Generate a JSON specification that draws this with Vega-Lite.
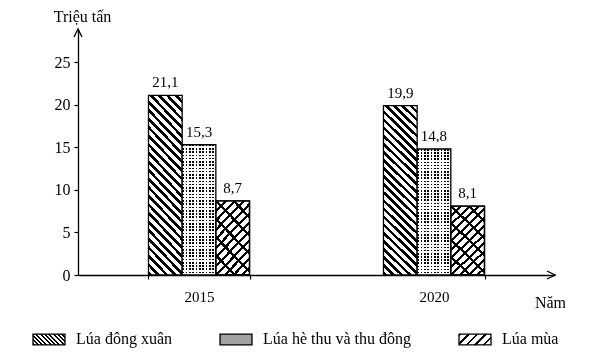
{
  "$schema": "https://vega.github.io/schema/vega-lite/v6.json",
  "width": 477,
  "height": 246,
  "autosize": {"type": "none"},
  "padding": {"left": 78, "top": 29, "right": 56, "bottom": 83},
  "background": "#ffffff",
  "params": [
    {"name": "g1", "value": {"gradient": "linear", "x1": 0, "y1": 1, "x2": 0.2229, "y2": -0.15, "stops": [
      {"offset":0,"color":"#000"},{"offset":0.018,"color":"#000"},{"offset":0.018,"color":"#fff"},{"offset":0.04,"color":"#fff"},
      {"offset":0.04,"color":"#000"},{"offset":0.058,"color":"#000"},{"offset":0.058,"color":"#fff"},{"offset":0.08,"color":"#fff"},
      {"offset":0.08,"color":"#000"},{"offset":0.098,"color":"#000"},{"offset":0.098,"color":"#fff"},{"offset":0.12,"color":"#fff"},
      {"offset":0.12,"color":"#000"},{"offset":0.138,"color":"#000"},{"offset":0.138,"color":"#fff"},{"offset":0.16,"color":"#fff"},
      {"offset":0.16,"color":"#000"},{"offset":0.178,"color":"#000"},{"offset":0.178,"color":"#fff"},{"offset":0.2,"color":"#fff"},
      {"offset":0.2,"color":"#000"},{"offset":0.218,"color":"#000"},{"offset":0.218,"color":"#fff"},{"offset":0.24,"color":"#fff"},
      {"offset":0.24,"color":"#000"},{"offset":0.258,"color":"#000"},{"offset":0.258,"color":"#fff"},{"offset":0.28,"color":"#fff"},
      {"offset":0.28,"color":"#000"},{"offset":0.298,"color":"#000"},{"offset":0.298,"color":"#fff"},{"offset":0.32,"color":"#fff"},
      {"offset":0.32,"color":"#000"},{"offset":0.338,"color":"#000"},{"offset":0.338,"color":"#fff"},{"offset":0.36,"color":"#fff"},
      {"offset":0.36,"color":"#000"},{"offset":0.378,"color":"#000"},{"offset":0.378,"color":"#fff"},{"offset":0.4,"color":"#fff"},
      {"offset":0.4,"color":"#000"},{"offset":0.418,"color":"#000"},{"offset":0.418,"color":"#fff"},{"offset":0.44,"color":"#fff"},
      {"offset":0.44,"color":"#000"},{"offset":0.458,"color":"#000"},{"offset":0.458,"color":"#fff"},{"offset":0.48,"color":"#fff"},
      {"offset":0.48,"color":"#000"},{"offset":0.498,"color":"#000"},{"offset":0.498,"color":"#fff"},{"offset":0.52,"color":"#fff"},
      {"offset":0.52,"color":"#000"},{"offset":0.538,"color":"#000"},{"offset":0.538,"color":"#fff"},{"offset":0.56,"color":"#fff"},
      {"offset":0.56,"color":"#000"},{"offset":0.578,"color":"#000"},{"offset":0.578,"color":"#fff"},{"offset":0.6,"color":"#fff"},
      {"offset":0.6,"color":"#000"},{"offset":0.618,"color":"#000"},{"offset":0.618,"color":"#fff"},{"offset":0.64,"color":"#fff"},
      {"offset":0.64,"color":"#000"},{"offset":0.658,"color":"#000"},{"offset":0.658,"color":"#fff"},{"offset":0.68,"color":"#fff"},
      {"offset":0.68,"color":"#000"},{"offset":0.698,"color":"#000"},{"offset":0.698,"color":"#fff"},{"offset":0.72,"color":"#fff"},
      {"offset":0.72,"color":"#000"},{"offset":0.738,"color":"#000"},{"offset":0.738,"color":"#fff"},{"offset":0.76,"color":"#fff"},
      {"offset":0.76,"color":"#000"},{"offset":0.778,"color":"#000"},{"offset":0.778,"color":"#fff"},{"offset":0.8,"color":"#fff"},
      {"offset":0.8,"color":"#000"},{"offset":0.818,"color":"#000"},{"offset":0.818,"color":"#fff"},{"offset":0.84,"color":"#fff"},
      {"offset":0.84,"color":"#000"},{"offset":0.858,"color":"#000"},{"offset":0.858,"color":"#fff"},{"offset":0.88,"color":"#fff"},
      {"offset":0.88,"color":"#000"},{"offset":0.898,"color":"#000"},{"offset":0.898,"color":"#fff"},{"offset":0.92,"color":"#fff"},
      {"offset":0.92,"color":"#000"},{"offset":0.938,"color":"#000"},{"offset":0.938,"color":"#fff"},{"offset":0.96,"color":"#fff"},
      {"offset":0.96,"color":"#000"},{"offset":0.978,"color":"#000"},{"offset":0.978,"color":"#fff"},{"offset":1,"color":"#fff"}]}},
    {"name": "g2", "value": {"gradient": "linear", "x1": 0, "y1": 0, "x2": 0, "y2": 1, "stops": [
      {"offset":0,"color":"#000"},{"offset":0.0125,"color":"#000"},{"offset":0.0125,"color":"#fff"},{"offset":0.025,"color":"#fff"},
      {"offset":0.025,"color":"#000"},{"offset":0.0375,"color":"#000"},{"offset":0.0375,"color":"#fff"},{"offset":0.05,"color":"#fff"},
      {"offset":0.05,"color":"#000"},{"offset":0.0625,"color":"#000"},{"offset":0.0625,"color":"#fff"},{"offset":0.075,"color":"#fff"},
      {"offset":0.075,"color":"#000"},{"offset":0.0875,"color":"#000"},{"offset":0.0875,"color":"#fff"},{"offset":0.1,"color":"#fff"},
      {"offset":0.1,"color":"#000"},{"offset":0.1125,"color":"#000"},{"offset":0.1125,"color":"#fff"},{"offset":0.125,"color":"#fff"},
      {"offset":0.125,"color":"#000"},{"offset":0.1375,"color":"#000"},{"offset":0.1375,"color":"#fff"},{"offset":0.15,"color":"#fff"},
      {"offset":0.15,"color":"#000"},{"offset":0.1625,"color":"#000"},{"offset":0.1625,"color":"#fff"},{"offset":0.175,"color":"#fff"},
      {"offset":0.175,"color":"#000"},{"offset":0.1875,"color":"#000"},{"offset":0.1875,"color":"#fff"},{"offset":0.2,"color":"#fff"},
      {"offset":0.2,"color":"#000"},{"offset":0.2125,"color":"#000"},{"offset":0.2125,"color":"#fff"},{"offset":0.225,"color":"#fff"},
      {"offset":0.225,"color":"#000"},{"offset":0.2375,"color":"#000"},{"offset":0.2375,"color":"#fff"},{"offset":0.25,"color":"#fff"},
      {"offset":0.25,"color":"#000"},{"offset":0.2625,"color":"#000"},{"offset":0.2625,"color":"#fff"},{"offset":0.275,"color":"#fff"},
      {"offset":0.275,"color":"#000"},{"offset":0.2875,"color":"#000"},{"offset":0.2875,"color":"#fff"},{"offset":0.3,"color":"#fff"},
      {"offset":0.3,"color":"#000"},{"offset":0.3125,"color":"#000"},{"offset":0.3125,"color":"#fff"},{"offset":0.325,"color":"#fff"},
      {"offset":0.325,"color":"#000"},{"offset":0.3375,"color":"#000"},{"offset":0.3375,"color":"#fff"},{"offset":0.35,"color":"#fff"},
      {"offset":0.35,"color":"#000"},{"offset":0.3625,"color":"#000"},{"offset":0.3625,"color":"#fff"},{"offset":0.375,"color":"#fff"},
      {"offset":0.375,"color":"#000"},{"offset":0.3875,"color":"#000"},{"offset":0.3875,"color":"#fff"},{"offset":0.4,"color":"#fff"},
      {"offset":0.4,"color":"#000"},{"offset":0.4125,"color":"#000"},{"offset":0.4125,"color":"#fff"},{"offset":0.425,"color":"#fff"},
      {"offset":0.425,"color":"#000"},{"offset":0.4375,"color":"#000"},{"offset":0.4375,"color":"#fff"},{"offset":0.45,"color":"#fff"},
      {"offset":0.45,"color":"#000"},{"offset":0.4625,"color":"#000"},{"offset":0.4625,"color":"#fff"},{"offset":0.475,"color":"#fff"},
      {"offset":0.475,"color":"#000"},{"offset":0.4875,"color":"#000"},{"offset":0.4875,"color":"#fff"},{"offset":0.5,"color":"#fff"},
      {"offset":0.5,"color":"#000"},{"offset":0.5125,"color":"#000"},{"offset":0.5125,"color":"#fff"},{"offset":0.525,"color":"#fff"},
      {"offset":0.525,"color":"#000"},{"offset":0.5375,"color":"#000"},{"offset":0.5375,"color":"#fff"},{"offset":0.55,"color":"#fff"},
      {"offset":0.55,"color":"#000"},{"offset":0.5625,"color":"#000"},{"offset":0.5625,"color":"#fff"},{"offset":0.575,"color":"#fff"},
      {"offset":0.575,"color":"#000"},{"offset":0.5875,"color":"#000"},{"offset":0.5875,"color":"#fff"},{"offset":0.6,"color":"#fff"},
      {"offset":0.6,"color":"#000"},{"offset":0.6125,"color":"#000"},{"offset":0.6125,"color":"#fff"},{"offset":0.625,"color":"#fff"},
      {"offset":0.625,"color":"#000"},{"offset":0.6375,"color":"#000"},{"offset":0.6375,"color":"#fff"},{"offset":0.65,"color":"#fff"},
      {"offset":0.65,"color":"#000"},{"offset":0.6625,"color":"#000"},{"offset":0.6625,"color":"#fff"},{"offset":0.675,"color":"#fff"},
      {"offset":0.675,"color":"#000"},{"offset":0.6875,"color":"#000"},{"offset":0.6875,"color":"#fff"},{"offset":0.7,"color":"#fff"},
      {"offset":0.7,"color":"#000"},{"offset":0.7125,"color":"#000"},{"offset":0.7125,"color":"#fff"},{"offset":0.725,"color":"#fff"},
      {"offset":0.725,"color":"#000"},{"offset":0.7375,"color":"#000"},{"offset":0.7375,"color":"#fff"},{"offset":0.75,"color":"#fff"},
      {"offset":0.75,"color":"#000"},{"offset":0.7625,"color":"#000"},{"offset":0.7625,"color":"#fff"},{"offset":0.775,"color":"#fff"},
      {"offset":0.775,"color":"#000"},{"offset":0.7875,"color":"#000"},{"offset":0.7875,"color":"#fff"},{"offset":0.8,"color":"#fff"},
      {"offset":0.8,"color":"#000"},{"offset":0.8125,"color":"#000"},{"offset":0.8125,"color":"#fff"},{"offset":0.825,"color":"#fff"},
      {"offset":0.825,"color":"#000"},{"offset":0.8375,"color":"#000"},{"offset":0.8375,"color":"#fff"},{"offset":0.85,"color":"#fff"},
      {"offset":0.85,"color":"#000"},{"offset":0.8625,"color":"#000"},{"offset":0.8625,"color":"#fff"},{"offset":0.875,"color":"#fff"},
      {"offset":0.875,"color":"#000"},{"offset":0.8875,"color":"#000"},{"offset":0.8875,"color":"#fff"},{"offset":0.9,"color":"#fff"},
      {"offset":0.9,"color":"#000"},{"offset":0.9125,"color":"#000"},{"offset":0.9125,"color":"#fff"},{"offset":0.925,"color":"#fff"},
      {"offset":0.925,"color":"#000"},{"offset":0.9375,"color":"#000"},{"offset":0.9375,"color":"#fff"},{"offset":0.95,"color":"#fff"},
      {"offset":0.95,"color":"#000"},{"offset":0.9625,"color":"#000"},{"offset":0.9625,"color":"#fff"},{"offset":0.975,"color":"#fff"},
      {"offset":0.975,"color":"#000"},{"offset":0.9875,"color":"#000"},{"offset":0.9875,"color":"#fff"},{"offset":1,"color":"#fff"}]}},
    {"name": "g2v", "value": {"gradient": "linear", "x1": 0, "y1": 0, "x2": 1, "y2": 0, "stops": [
      {"offset":0,"color":"#000"},{"offset":0.05,"color":"#000"},{"offset":0.05,"color":"#fff"},{"offset":0.1,"color":"#fff"},
      {"offset":0.1,"color":"#000"},{"offset":0.15,"color":"#000"},{"offset":0.15,"color":"#fff"},{"offset":0.2,"color":"#fff"},
      {"offset":0.2,"color":"#000"},{"offset":0.25,"color":"#000"},{"offset":0.25,"color":"#fff"},{"offset":0.3,"color":"#fff"},
      {"offset":0.3,"color":"#000"},{"offset":0.35,"color":"#000"},{"offset":0.35,"color":"#fff"},{"offset":0.4,"color":"#fff"},
      {"offset":0.4,"color":"#000"},{"offset":0.45,"color":"#000"},{"offset":0.45,"color":"#fff"},{"offset":0.5,"color":"#fff"},
      {"offset":0.5,"color":"#000"},{"offset":0.55,"color":"#000"},{"offset":0.55,"color":"#fff"},{"offset":0.6,"color":"#fff"},
      {"offset":0.6,"color":"#000"},{"offset":0.65,"color":"#000"},{"offset":0.65,"color":"#fff"},{"offset":0.7,"color":"#fff"},
      {"offset":0.7,"color":"#000"},{"offset":0.75,"color":"#000"},{"offset":0.75,"color":"#fff"},{"offset":0.8,"color":"#fff"},
      {"offset":0.8,"color":"#000"},{"offset":0.85,"color":"#000"},{"offset":0.85,"color":"#fff"},{"offset":0.9,"color":"#fff"},
      {"offset":0.9,"color":"#000"},{"offset":0.95,"color":"#000"},{"offset":0.95,"color":"#fff"},{"offset":1,"color":"#fff"}]}},
    {"name": "g3", "value": {"gradient": "linear", "x1": 0, "y1": 0, "x2": 0.568, "y2": 1.205, "stops": [
      {"offset":0,"color":"#000"},{"offset":0.029,"color":"#000"},{"offset":0.029,"color":"#fff"},{"offset":0.0833,"color":"#fff"},
      {"offset":0.0833,"color":"#000"},{"offset":0.1123,"color":"#000"},{"offset":0.1123,"color":"#fff"},{"offset":0.1667,"color":"#fff"},
      {"offset":0.1667,"color":"#000"},{"offset":0.1957,"color":"#000"},{"offset":0.1957,"color":"#fff"},{"offset":0.25,"color":"#fff"},
      {"offset":0.25,"color":"#000"},{"offset":0.279,"color":"#000"},{"offset":0.279,"color":"#fff"},{"offset":0.3333,"color":"#fff"},
      {"offset":0.3333,"color":"#000"},{"offset":0.3623,"color":"#000"},{"offset":0.3623,"color":"#fff"},{"offset":0.4167,"color":"#fff"},
      {"offset":0.4167,"color":"#000"},{"offset":0.4457,"color":"#000"},{"offset":0.4457,"color":"#fff"},{"offset":0.5,"color":"#fff"},
      {"offset":0.5,"color":"#000"},{"offset":0.529,"color":"#000"},{"offset":0.529,"color":"#fff"},{"offset":0.5833,"color":"#fff"},
      {"offset":0.5833,"color":"#000"},{"offset":0.6123,"color":"#000"},{"offset":0.6123,"color":"#fff"},{"offset":0.6667,"color":"#fff"},
      {"offset":0.6667,"color":"#000"},{"offset":0.6957,"color":"#000"},{"offset":0.6957,"color":"#fff"},{"offset":0.75,"color":"#fff"},
      {"offset":0.75,"color":"#000"},{"offset":0.779,"color":"#000"},{"offset":0.779,"color":"#fff"},{"offset":0.8333,"color":"#fff"},
      {"offset":0.8333,"color":"#000"},{"offset":0.8623,"color":"#000"},{"offset":0.8623,"color":"#fff"},{"offset":0.9167,"color":"#fff"},
      {"offset":0.9167,"color":"#000"},{"offset":0.9457,"color":"#000"},{"offset":0.9457,"color":"#fff"},{"offset":1,"color":"#fff"}]}},
    {"name": "g3x", "value": {"gradient": "linear", "x1": 0, "y1": 1, "x2": 0.568, "y2": -0.205, "stops": [
      {"offset":0,"color":"#000"},{"offset":0.03,"color":"#000"},{"offset":0.03,"color":"#fff"},{"offset":0.1667,"color":"#fff"},
      {"offset":0.1667,"color":"#000"},{"offset":0.1967,"color":"#000"},{"offset":0.1967,"color":"#fff"},{"offset":0.3333,"color":"#fff"},
      {"offset":0.3333,"color":"#000"},{"offset":0.3633,"color":"#000"},{"offset":0.3633,"color":"#fff"},{"offset":0.5,"color":"#fff"},
      {"offset":0.5,"color":"#000"},{"offset":0.53,"color":"#000"},{"offset":0.53,"color":"#fff"},{"offset":0.6667,"color":"#fff"},
      {"offset":0.6667,"color":"#000"},{"offset":0.6967,"color":"#000"},{"offset":0.6967,"color":"#fff"},{"offset":0.8333,"color":"#fff"},
      {"offset":0.8333,"color":"#000"},{"offset":0.8633,"color":"#000"},{"offset":0.8633,"color":"#fff"},{"offset":1,"color":"#fff"}]}},
    {"name": "lg1", "value": {"gradient": "linear", "x1": 0, "y1": 1, "x2": 1.202, "y2": 0.587, "stops": [
      {"offset":0,"color":"#000"},{"offset":0.045,"color":"#000"},{"offset":0.045,"color":"#fff"},{"offset":0.1,"color":"#fff"},
      {"offset":0.1,"color":"#000"},{"offset":0.145,"color":"#000"},{"offset":0.145,"color":"#fff"},{"offset":0.2,"color":"#fff"},
      {"offset":0.2,"color":"#000"},{"offset":0.245,"color":"#000"},{"offset":0.245,"color":"#fff"},{"offset":0.3,"color":"#fff"},
      {"offset":0.3,"color":"#000"},{"offset":0.345,"color":"#000"},{"offset":0.345,"color":"#fff"},{"offset":0.4,"color":"#fff"},
      {"offset":0.4,"color":"#000"},{"offset":0.445,"color":"#000"},{"offset":0.445,"color":"#fff"},{"offset":0.5,"color":"#fff"},
      {"offset":0.5,"color":"#000"},{"offset":0.545,"color":"#000"},{"offset":0.545,"color":"#fff"},{"offset":0.6,"color":"#fff"},
      {"offset":0.6,"color":"#000"},{"offset":0.645,"color":"#000"},{"offset":0.645,"color":"#fff"},{"offset":0.7,"color":"#fff"},
      {"offset":0.7,"color":"#000"},{"offset":0.745,"color":"#000"},{"offset":0.745,"color":"#fff"},{"offset":0.8,"color":"#fff"},
      {"offset":0.8,"color":"#000"},{"offset":0.845,"color":"#000"},{"offset":0.845,"color":"#fff"},{"offset":0.9,"color":"#fff"},
      {"offset":0.9,"color":"#000"},{"offset":0.945,"color":"#000"},{"offset":0.945,"color":"#fff"},{"offset":1,"color":"#fff"}]}},
    {"name": "lg3", "value": {"gradient": "linear", "x1": 0, "y1": 0, "x2": 1.202, "y2": 0.4135, "stops": [
      {"offset":0,"color":"#000"},{"offset":0.06,"color":"#000"},{"offset":0.06,"color":"#fff"},{"offset":0.2,"color":"#fff"},
      {"offset":0.2,"color":"#000"},{"offset":0.26,"color":"#000"},{"offset":0.26,"color":"#fff"},{"offset":0.4,"color":"#fff"},
      {"offset":0.4,"color":"#000"},{"offset":0.46,"color":"#000"},{"offset":0.46,"color":"#fff"},{"offset":0.6,"color":"#fff"},
      {"offset":0.6,"color":"#000"},{"offset":0.66,"color":"#000"},{"offset":0.66,"color":"#fff"},{"offset":0.8,"color":"#fff"},
      {"offset":0.8,"color":"#000"},{"offset":0.86,"color":"#000"},{"offset":0.86,"color":"#fff"},{"offset":1,"color":"#fff"}]}}
  ],
  "data": {"values": [
    {"year": "2015", "series": "Lúa đông xuân", "value": 21.1},
    {"year": "2015", "series": "Lúa hè thu và thu đông", "value": 15.3},
    {"year": "2015", "series": "Lúa mùa", "value": 8.7},
    {"year": "2020", "series": "Lúa đông xuân", "value": 19.9},
    {"year": "2020", "series": "Lúa hè thu và thu đông", "value": 14.8},
    {"year": "2020", "series": "Lúa mùa", "value": 8.1}
  ]},
  "layer": [
    {
      "transform": [{"filter": "datum.series === 'Lúa đông xuân'"}],
      "mark": {"type": "bar", "fill": {"expr": "g1"}, "stroke": "#000", "strokeWidth": 1.3},
      "encoding": {
        "x": {"field": "year", "type": "nominal", "scale": {"paddingInner": 0.57, "paddingOuter": 0.3},
          "axis": {"title": "Năm", "labelAngle": 0, "tickBand": "extent", "tickSize": 4, "labelPadding": 10, "labelFontSize": 15,
            "titleX": 472, "titleY": 27, "titleAlign": "center", "titleBaseline": "middle", "titleAnchor": null}},
        "xOffset": {"field": "series", "type": "nominal", "scale": {"domain": ["Lúa đông xuân", "Lúa hè thu và thu đông", "Lúa mùa"], "paddingInner": 0, "paddingOuter": 0}},
        "y": {"field": "value", "type": "quantitative", "scale": {"domain": [0, 28.9], "nice": false},
          "axis": {"values": [0, 5, 10, 15, 20, 25], "tickSize": 4, "labelPadding": 4, "title": "Triệu tấn", "titleAngle": 0,
            "titleAlign": "center", "titleBaseline": "middle", "titleX": 4, "titleY": -13}}
      }
    },
    {
      "transform": [{"filter": "datum.series === 'Lúa hè thu và thu đông'"}],
      "mark": {"type": "bar", "fill": {"expr": "g2"}, "stroke": "#000", "strokeWidth": 1.3},
      "encoding": {
        "x": {"field": "year", "type": "nominal"},
        "xOffset": {"field": "series", "type": "nominal"},
        "y": {"field": "value", "type": "quantitative"}
      }
    },
    {
      "transform": [{"filter": "datum.series === 'Lúa hè thu và thu đông'"}],
      "mark": {"type": "bar", "fill": {"expr": "g2v"}, "blend": "lighten", "stroke": "#000", "strokeWidth": 1.3},
      "encoding": {
        "x": {"field": "year", "type": "nominal"},
        "xOffset": {"field": "series", "type": "nominal"},
        "y": {"field": "value", "type": "quantitative"}
      }
    },
    {
      "transform": [{"filter": "datum.series === 'Lúa mùa'"}],
      "mark": {"type": "bar", "fill": {"expr": "g3"}, "stroke": "#000", "strokeWidth": 1.3},
      "encoding": {
        "x": {"field": "year", "type": "nominal"},
        "xOffset": {"field": "series", "type": "nominal"},
        "y": {"field": "value", "type": "quantitative"}
      }
    },
    {
      "transform": [{"filter": "datum.series === 'Lúa mùa'"}],
      "mark": {"type": "bar", "fill": {"expr": "g3x"}, "blend": "multiply", "stroke": "#000", "strokeWidth": 1.3},
      "encoding": {
        "x": {"field": "year", "type": "nominal"},
        "xOffset": {"field": "series", "type": "nominal"},
        "y": {"field": "value", "type": "quantitative"}
      }
    },
    {
      "transform": [{"filter": "false"}],
      "mark": {"type": "bar", "stroke": "#000", "strokeWidth": 1.3},
      "encoding": {
        "x": {"field": "year", "type": "nominal"},
        "xOffset": {"field": "series", "type": "nominal"},
        "y": {"field": "value", "type": "quantitative"},
        "fill": {"field": "series", "type": "nominal",
          "scale": {"domain": ["Lúa đông xuân", "Lúa hè thu và thu đông", "Lúa mùa"], "range": [{"expr": "lg1"}, "#a2a2a2", {"expr": "lg3"}]},
          "legend": {"orient": "none", "legendX": -46, "legendY": 293, "direction": "horizontal", "columns": 3, "columnPadding": 45,
            "title": null, "symbolType": "M-1,-0.34H1V0.34H-1Z", "symbolSize": 1024, "symbolStrokeColor": "#000", "symbolStrokeWidth": 1.3,
            "symbolOpacity": 1, "labelFontSize": 16, "labelFont": "Liberation Serif", "labelColor": "#000", "labelOffset": 10}}
      }
    },
    {
      "mark": {"type": "text", "dy": -13, "fontSize": 15, "baseline": "middle", "color": "#000"},
      "encoding": {
        "x": {"field": "year", "type": "nominal"},
        "xOffset": {"field": "series", "type": "nominal"},
        "y": {"field": "value", "type": "quantitative"},
        "text": {"field": "value", "type": "quantitative", "format": ".1f"}
      }
    },
    {
      "data": {"values": [{}]},
      "mark": {"type": "point", "shape": "M-1,2L0,0L1,2", "size": 64, "filled": false, "stroke": "#000", "strokeWidth": 1.3, "opacity": 1},
      "encoding": {"x": {"value": 0}, "y": {"datum": 28.9}}
    },
    {
      "data": {"values": [{}]},
      "mark": {"type": "point", "shape": "M-2,-1L0,0L-2,1", "size": 64, "filled": false, "stroke": "#000", "strokeWidth": 1.3, "opacity": 1},
      "encoding": {"x": {"value": "width"}, "y": {"datum": 0}}
    }
  ],
  "config": {
    "font": "Liberation Serif",
    "view": {"stroke": null},
    "locale": {"number": {"decimal": ",", "thousands": ".", "grouping": [3], "currency": ["", " ₫"]}},
    "axis": {"domainColor": "#000", "tickColor": "#000", "labelColor": "#000", "titleColor": "#000", "labelFont": "Liberation Serif",
      "titleFont": "Liberation Serif", "grid": false, "domainWidth": 1.3, "tickWidth": 1.2, "labelFontSize": 16, "titleFontSize": 16, "titleFontWeight": "normal"},
    "text": {"font": "Liberation Serif"}
  }
}
